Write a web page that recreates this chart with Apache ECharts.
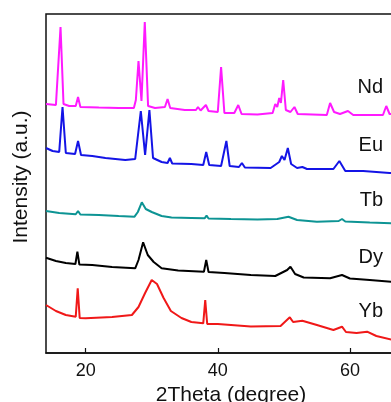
<!DOCTYPE html>
<html>
<head>
<meta charset="utf-8">
<script src="https://cdn.jsdelivr.net/npm/echarts@6/dist/echarts.min.js"></script>
<style>
  html, body { margin: 0; padding: 0; background: #fff; }
  #chart { width: 391px; height: 402px; }
</style>
</head>
<body>
<div id="chart"></div>
<script>
// [2theta, intensity (a.u., offset stacked)]
const ndData = [
  [14, 249], [15.5, 248], [15.75, 249], [16.2, 326], [16.65, 249], [17.5, 247], [18.5, 247],
  [18.85, 256], [19.2, 246], [22, 245.5], [25, 245], [27.3, 245], [27.6, 253], [28.0, 292],
  [28.45, 252], [28.95, 331], [29.45, 247], [30.5, 245], [32.0, 246], [32.4, 254], [32.8, 245],
  [35, 243], [36.7, 243], [37.0, 246], [37.4, 242.5], [38.2, 248], [38.6, 242], [40.0, 241],
  [40.5, 286], [41.0, 240], [42.5, 240], [43.1, 248], [43.6, 239], [46, 238.5], [48.3, 240],
  [48.7, 249], [49.0, 246], [49.3, 255], [49.55, 250], [49.9, 273], [50.3, 243], [51.0, 241],
  [51.6, 246], [52.1, 239], [56.5, 238], [57.0, 250], [57.6, 241], [58.5, 239], [59.7, 242],
  [60.5, 238], [65.0, 238], [65.5, 247], [66.0, 239], [68, 238], [70, 238]
];
const euData = [
  [14, 205], [15, 202], [16.0, 201], [16.5, 246], [17.0, 200], [18.4, 199], [18.85, 212],
  [19.3, 198], [21, 197], [23, 195], [26, 193], [27.5, 194], [28.35, 242], [29.0, 198],
  [29.65, 243], [30.2, 195], [31.5, 191], [32.4, 190], [32.75, 195], [33.1, 189.5], [36, 189],
  [37.8, 188], [38.25, 201], [38.7, 188], [40.5, 187], [41.3, 212], [41.8, 187], [43.2, 186],
  [43.65, 190], [44.1, 185.5], [48, 185], [49.3, 191], [49.7, 197], [50.1, 193], [50.6, 205],
  [51.1, 189], [52.0, 185], [52.8, 186], [53.5, 184], [57.5, 184], [58.4, 192], [59.3, 182],
  [62, 182], [66, 180], [70, 179]
];
const tbData = [
  [14, 142], [16, 140], [18.5, 138.7], [18.85, 142], [19.2, 138.5], [22, 138], [25, 137],
  [27.4, 136.3], [27.9, 141], [28.5, 150.7], [29.1, 144], [30, 141], [31.5, 137], [33, 135.5],
  [36, 135], [38.0, 134.7], [38.3, 137.3], [38.6, 134.5], [42, 134], [46, 133.5], [49, 134],
  [50.7, 136.3], [52, 133], [55, 131.3], [58.3, 132], [58.8, 134], [59.3, 131.5], [63, 130.5],
  [70, 129]
];
const dyData = [
  [14, 95.3], [15.5, 92], [17, 90], [18.45, 89], [18.75, 101.3], [19.05, 88.5], [21, 88],
  [24, 86], [27.5, 84.7], [28.0, 93], [28.7, 110.7], [29.4, 98], [30.3, 91], [31.5, 84.7],
  [34, 82.5], [37.9, 81.3], [38.25, 93], [38.6, 81], [41, 80], [45, 78], [48.7, 77],
  [50.5, 83], [51.0, 86.3], [51.7, 79], [53, 75.5], [57, 74.7], [58.8, 78], [60, 74.5],
  [63, 73], [70, 69]
];
const ybData = [
  [14, 48], [15.5, 42], [17, 38], [18.5, 36.3], [18.8, 64.7], [19.1, 35], [20, 34.7],
  [24, 36], [27, 38], [28, 46], [29, 60], [30.0, 73], [30.8, 69], [31.8, 55], [32.9, 42],
  [34.5, 35], [36, 31], [37.8, 29.7], [38.1, 53], [38.4, 29], [40, 29], [45, 26.5],
  [49.5, 27], [50.9, 35.7], [51.4, 31], [52.8, 32.3], [55, 28], [57.5, 23], [58.8, 26.3],
  [59.4, 21], [61, 20], [62.6, 21.3], [64, 17], [66.5, 13], [70, 9]
];
const seriesNames = ['Nd', 'Eu', 'Tb', 'Dy', 'Yb'];
const seriesData = [ndData, euData, tbData, dyData, ybData];
const seriesColors = ['#ff1aff', '#1414e6', '#0d9494', '#000000', '#f01818'];
const tickValues = [20, 40, 60];

// label centre y positions (px) next to each curve
const labelY = [88, 146, 201, 258, 312];

const chart = echarts.init(document.getElementById('chart'));

const option = {
  animation: false,
  grid: {
    left: 46,
    top: 14,
    width: 370,
    height: 339,
    outerBoundsMode: 'none',
    containLabel: false,
    show: true,
    borderColor: '#111',
    borderWidth: 1.5
  },
  xAxis: {
    type: 'value',
    min: 14,
    max: 70,
    name: '2Theta (degree)',
    nameLocation: 'middle',
    nameGap: 31,
    nameTextStyle: {
      color: '#111',
      fontSize: 21,
      fontFamily: 'Liberation Sans'
    },
    axisLine: { show: true, onZero: false, lineStyle: { color: '#111', width: 1.5 } },
    axisTick: {
      show: true,
      inside: true,
      length: 5,
      customValues: tickValues,
      lineStyle: { color: '#111', width: 1.2 }
    },
    axisLabel: {
      customValues: tickValues,
      color: '#111',
      fontSize: 18,
      fontFamily: 'Liberation Sans',
      margin: 9
    },
    splitLine: { show: false }
  },
  yAxis: {
    type: 'value',
    min: 0,
    max: 339,
    axisLine: { show: false },
    axisTick: { show: false },
    axisLabel: { show: false },
    splitLine: { show: false }
  },
  graphic: [
    {
      type: 'text',
      x: 21,
      y: 177,
      rotation: Math.PI / 2,
      style: {
        text: 'Intensity (a.u.)',
        fill: '#111',
        fontSize: 21,
        fontFamily: 'Liberation Sans',
        textAlign: 'center',
        textVerticalAlign: 'middle'
      }
    }
  ].concat(seriesNames.map((name, i) => ({
    type: 'text',
    right: 8,
    y: labelY[i] - 11,
    style: {
      text: name,
      fill: '#111',
      fontSize: 20,
      fontFamily: 'Liberation Sans'
    }
  }))),
  series: seriesNames.map((name, i) => ({
    name: name,
    type: 'line',
    data: seriesData[i],
    symbol: 'none',
    smooth: false,
    lineStyle: { color: seriesColors[i], width: 2 },
    z: 2
  }))
};

chart.setOption(option);
</script>
</body>
</html>
